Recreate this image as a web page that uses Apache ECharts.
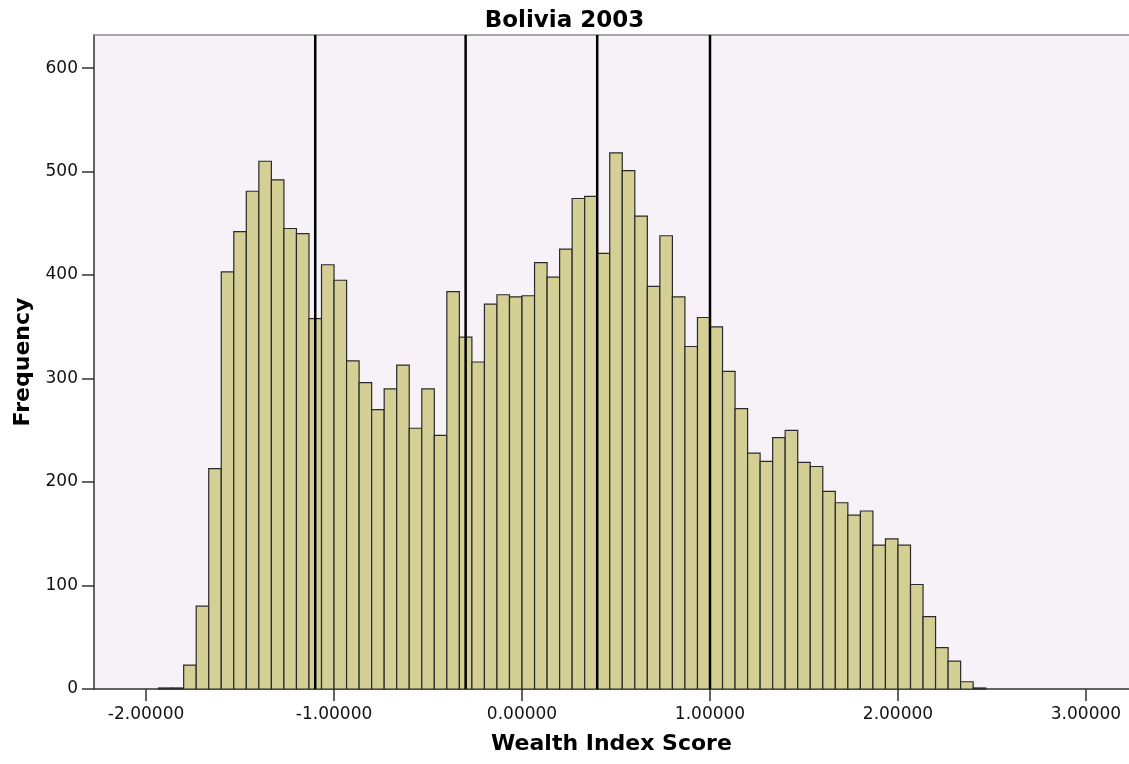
<!DOCTYPE html>
<html lang="en">
<head>
<meta charset="UTF-8">
<title>Bolivia 2003</title>
<script src="https://cdn.jsdelivr.net/npm/echarts@6/dist/echarts.min.js"></script>
<style>
  html, body { margin: 0; padding: 0; background: #fff; }
  #chart { width: 1129px; height: 764px; }
</style>
</head>
<body>
<div id="chart"></div>
<script>
// histogram bins: first edge and width (1/15 of a unit)
var binStart = -29 / 15;
var binWidth = 1 / 15;
var counts = [
  1, 1,
  23, 80, 213, 403, 442, 481, 510, 492, 445, 440,
  358, 410, 395, 317, 296, 270, 290, 313, 252, 290,
  245, 384, 340, 316, 372, 381, 379, 380, 412, 398,
  425, 474, 476, 421, 518, 501, 457, 389, 438, 379,
  331, 359, 350, 307, 271, 228, 220, 243, 250, 219,
  215, 191, 180, 168, 172, 139, 145, 139, 101, 70,
  40, 27, 7, 1
];
// quintile cut points drawn as vertical lines
var cutPoints = [-1.1, -0.3, 0.4, 1.0];
var xTicks = [-2, -1, 0, 1, 2, 3];
var yTicks = [0, 100, 200, 300, 400, 500, 600];

var xMin = -2.277, xMax = 3.229, yMax = 632;

var bins = counts.map(function (c, i) {
  return [binStart + i * binWidth, binStart + (i + 1) * binWidth, c];
});

var chart = echarts.init(document.getElementById('chart'));
var font = 'DejaVu Sans';

chart.setOption({
  backgroundColor: '#fff',
  animation: false,
  title: {
    text: 'Bolivia 2003',
    left: 'center',
    top: 5,
    textStyle: { fontFamily: font, fontSize: 23, fontWeight: 'bold', color: '#000' }
  },
  grid: {
    left: 94, right: 0, top: 35, bottom: 75,
    show: true, backgroundColor: '#f6f2f7', borderWidth: 0
  },
  xAxis: [{
    type: 'value',
    min: xMin, max: xMax,
    name: 'Wealth Index Score',
    nameLocation: 'middle',
    nameGap: 44,
    nameTextStyle: { fontFamily: font, fontSize: 22, fontWeight: 'bold', color: '#000' },
    axisLine: { show: true, onZero: false, lineStyle: { color: '#333', width: 1.5 } },
    axisTick: { show: true, customValues: xTicks, length: 12, lineStyle: { color: '#333', width: 1.5 } },
    axisLabel: {
      customValues: xTicks, margin: 17,
      fontFamily: font, fontSize: 17, color: '#111',
      formatter: function (v) {
        if (Math.abs(v) < 1e-9) v = 0;
        return v.toFixed(5);
      }
    },
    splitLine: { show: false }
  }, {
    type: 'value',
    position: 'top',
    min: xMin, max: xMax,
    axisLine: { show: true, onZero: false, lineStyle: { color: '#8c8c8c', width: 1.5 } },
    axisTick: { show: false },
    axisLabel: { show: false },
    splitLine: { show: false }
  }],
  yAxis: {
    type: 'value',
    min: 0, max: yMax,
    name: 'Frequency',
    nameLocation: 'middle',
    nameGap: 60,
    nameTextStyle: { fontFamily: font, fontSize: 22, fontWeight: 'bold', color: '#000' },
    axisLine: { show: true, onZero: false, lineStyle: { color: '#333', width: 1.5 } },
    axisTick: { show: true, customValues: yTicks, length: 12, lineStyle: { color: '#333', width: 1.5 } },
    axisLabel: { customValues: yTicks, margin: 16, fontFamily: font, fontSize: 17, color: '#111' },
    splitLine: { show: false }
  },
  series: [{
    type: 'custom',
    name: 'Frequency',
    xAxisIndex: 0,
    data: bins,
    encode: { x: [0, 1], y: 2 },
    renderItem: function (params, api) {
      var p0 = api.coord([api.value(0), api.value(2)]);
      var p1 = api.coord([api.value(1), 0]);
      return {
        type: 'rect',
        shape: { x: p0[0], y: p0[1], width: p1[0] - p0[0], height: p1[1] - p0[1] },
        style: { fill: '#d4cf95', stroke: '#2a2a2a', lineWidth: 1.2 }
      };
    }
  }, {
    type: 'custom',
    name: 'cuts',
    xAxisIndex: 0,
    data: cutPoints,
    z: 5,
    renderItem: function (params, api) {
      var a = api.coord([api.value(0), 0]);
      var b = api.coord([api.value(0), yMax]);
      return {
        type: 'line',
        shape: { x1: a[0], y1: a[1], x2: b[0], y2: b[1] },
        style: { stroke: '#000', lineWidth: 2.5 }
      };
    }
  }]
});
</script>
</body>
</html>
